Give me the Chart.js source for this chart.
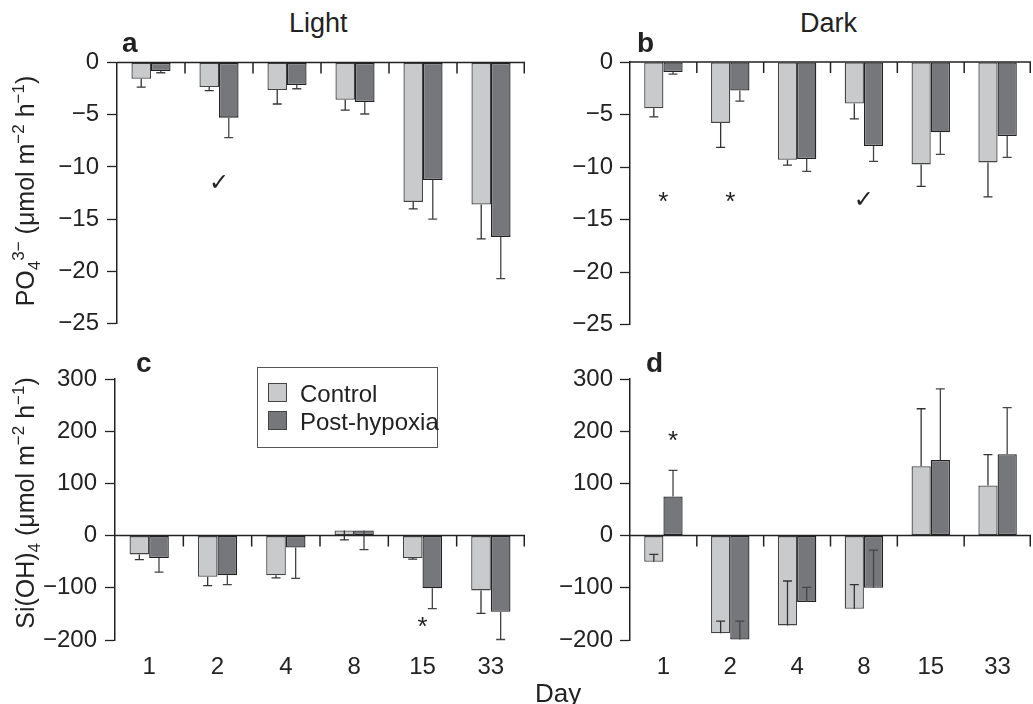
<!DOCTYPE html>
<html>
<head>
<meta charset="utf-8">
<script src="https://cdn.jsdelivr.net/npm/chart.js@4.4.1/dist/chart.umd.min.js"></script>
<style>
	body { margin: 0; background: #fff; width: 1033px; height: 704px; position: relative; overflow: hidden;
		font-family: "Liberation Sans", Arial, Helvetica, sans-serif; color: #222; }
	canvas { position: absolute; }
	.txt { position: absolute; white-space: nowrap; font-size: 27px; line-height: 1; }
	.letter { position: absolute; font-weight: bold; font-size: 28px; line-height: 1; }
	.ylab { position: absolute; white-space: nowrap; font-size: 25px; line-height: 1;
		transform: translate(-50%, -50%) rotate(-90deg); }
	.ylab sup, .ylab sub { font-size: 17px; line-height: 0; }
	#legend { position: absolute; left: 257px; top: 367px; width: 179px; height: 79px;
		border: 1px solid #555; background: #fff; }
	.sw { position: absolute; left: 10px; width: 17px; height: 17px; border: 1px solid #444; }
	.lt { position: absolute; left: 42px; font-size: 24px; line-height: 1; white-space: nowrap; }
</style>
</head>
<body>

<canvas id="pa" width="540" height="306" style="left:0px;top:40px"></canvas>
<canvas id="pb" width="513" height="306" style="left:520px;top:40px"></canvas>
<canvas id="pc" width="540" height="340" style="left:0px;top:350px"></canvas>
<canvas id="pd" width="513" height="340" style="left:520px;top:350px"></canvas>

<div class="txt" style="left:289px;top:10px">Light</div>
<div class="txt" style="left:800px;top:10px">Dark</div>
<div class="letter" style="left:122px;top:29px">a</div>
<div class="letter" style="left:637px;top:29px">b</div>
<div class="letter" style="left:136px;top:349px">c</div>
<div class="letter" style="left:646px;top:349px">d</div>
<div class="ylab" style="left:25px;top:191px">PO<sub>4</sub><sup>3−</sup> (μmol m<sup>−2</sup> h<sup>−1</sup>)</div>
<div class="ylab" style="left:25px;top:503px">Si(OH)<sub>4</sub> (μmol m<sup>−2</sup> h<sup>−1</sup>)</div>
<div class="txt" style="left:535px;top:680px;font-size:26px">Day</div>

<div id="legend">
	<div class="sw" style="top:15px;background:#c9cacc"></div>
	<div class="lt" style="top:14px">Control</div>
	<div class="sw" style="top:43px;background:#76777b"></div>
	<div class="lt" style="top:42px">Post-hypoxia</div>
</div>

<script>
var days = ['1', '2', '4', '8', '15', '33'];

// PO4 light (a)
var aCtrl = [-1.56, -2.36, -2.65, -3.57, -13.35, -13.6];
var aCtrlErr = [-2.36, -2.71, -3.98, -4.56, -14.02, -16.9];
var aPost = [-0.83, -5.29, -2.17, -3.79, -11.25, -16.7];
var aPostErr = [-0.99, -7.2, -2.52, -4.94, -15.0, -20.7];

// PO4 dark (b)
var bCtrl = [-4.4, -5.8, -9.3, -3.95, -9.75, -9.56];
var bCtrlErr = [-5.23, -8.13, -9.82, -5.42, -11.85, -12.84];
var bPost = [-0.96, -2.71, -9.24, -8.0, -6.69, -7.04];
var bPostErr = [-1.15, -3.73, -10.42, -9.46, -8.8, -9.08];

// Si(OH)4 light (c)
var cCtrl = [-36, -79, -76, 10, -43, -105];
var cCtrlErr = [-46, -96, -81, -8, -45, -149];
var cPost = [-43, -76, -23, 10, -101, -146];
var cPostErr = [-70, -94, -82, -27, -140, -199];

// Si(OH)4 dark (d)
var dCtrl = [-50, -187, -172, -140, 133, 96];
var dCtrlErr = [-36, -164, -87, -94, 243, 155];
var dPost = [75, -199, -127, -100, 145, 156];
var dPostErr = [125, -164, -99, -28, 281, 245];

// significance marks: [day index, value, symbol, dataset (-1 = between bars)]
var aNotes = [[1, -11.6, '✓', -1]];
var bNotes = [[0, -13.4, '*', -1], [1, -13.4, '*', -1], [3, -13.2, '✓', -1]];
var cNotes = [[4, -176, '*', -1]];
var dNotes = [[0, 180, '*', 1]];

var fontFam = '"Liberation Sans", Arial, Helvetica, sans-serif';
var ink = '#222';

var extras = {
	id: 'extras',
	afterDatasetsDraw: function (chart) {
		var ctx = chart.ctx;
		var xs = chart.scales.x, ys = chart.scales.y;
		var area = chart.chartArea;
		ctx.save();

		// error bars
		chart.data.datasets.forEach(function (ds, di) {
			var meta = chart.getDatasetMeta(di);
			meta.data.forEach(function (bar, i) {
				var y1 = ys.getPixelForValue(ds.data[i]);
				var y2 = ys.getPixelForValue(ds.err[i]);
				ctx.strokeStyle = di == 0 ? '#333' : '#444';
				ctx.lineWidth = 1.3;
				ctx.beginPath();
				ctx.moveTo(bar.x, y1);
				ctx.lineTo(bar.x, y2);
				ctx.moveTo(bar.x - 4.5, y2);
				ctx.lineTo(bar.x + 4.5, y2);
				ctx.stroke();
			});
		});

		// zero line with ticks between days
		var y0 = ys.getPixelForValue(0);
		ctx.strokeStyle = ink;
		ctx.lineWidth = 1.5;
		ctx.beginPath();
		ctx.moveTo(area.left, y0);
		ctx.lineTo(area.right, y0);
		for (var i = 1; i <= days.length; i++) {
			var bx = i < days.length ? (xs.getPixelForValue(i - 1) + xs.getPixelForValue(i)) / 2 : area.right - 0.75;
			ctx.moveTo(bx, y0);
			ctx.lineTo(bx, y0 + 11);
		}
		ctx.stroke();

		// marks
		ctx.fillStyle = ink;
		ctx.textAlign = 'center';
		ctx.textBaseline = 'middle';
		(chart.options.notes || []).forEach(function (n) {
			var x = n[3] < 0 ? xs.getPixelForValue(n[0]) : chart.getDatasetMeta(n[3]).data[n[0]].x;
			ctx.font = n[2] == '*' ? '26px ' + fontFam : '24px "DejaVu Sans", sans-serif';
			ctx.fillText(n[2], x, ys.getPixelForValue(n[1]));
		});
		ctx.restore();
	}
};

function panel(id, ctrl, ctrlErr, post, postErr, yMin, yMax, step, yWidth, labelPad, pad, showDays, notes) {
	var ctx = document.getElementById(id).getContext('2d');
	return new Chart(ctx, {
		type: 'bar',
		data: {
			labels: days,
			datasets: [{
				label: 'Control',
				data: ctrl,
				err: ctrlErr,
				backgroundColor: '#c9cacc',
				borderColor: '#444',
				borderWidth: 1.3,
				borderSkipped: false
			}, {
				label: 'Post-hypoxia',
				data: post,
				err: postErr,
				backgroundColor: '#76777b',
				borderColor: '#222',
				borderWidth: 1.3,
				borderSkipped: false
			}]
		},
		options: {
			responsive: false,
			animation: false,
			notes: notes,
			categoryPercentage: 0.575,
			barPercentage: 1.0,
			layout: { padding: pad },
			plugins: { legend: { display: false }, tooltip: { enabled: false } },
			scales: {
				x: {
					display: showDays,
					grid: { display: false },
					border: { display: false },
					ticks: { color: ink, padding: 5, font: { size: 24, family: fontFam } },
					afterFit: function (s) { s.height = showDays ? 50 : 0; }
				},
				y: {
					min: yMin,
					max: yMax,
					ticks: {
						stepSize: step,
						color: ink,
						padding: labelPad,
						font: { size: 24, family: fontFam },
						callback: function (v) { return String(v).replace('-', '−'); }
					},
					grid: { drawOnChartArea: false, tickLength: 10, tickColor: ink, tickWidth: 1.3 },
					border: { color: ink, width: 1.5 },
					afterFit: function (s) { s.width = yWidth; }
				}
			}
		},
		plugins: [extras]
	});
}

window.onload = function () {
	panel('pa', aCtrl, aCtrlErr, aPost, aPostErr, -25, 0, 5, 117, 8, { top: 22, right: 15, bottom: 11, left: 0 }, false, aNotes);
	panel('pb', bCtrl, bCtrlErr, bPost, bPostErr, -25, 0, 5, 110, 7, { top: 22, right: 2, bottom: 11, left: 0 }, false, bNotes);
	panel('pc', cCtrl, cCtrlErr, cPost, cPostErr, -200, 300, 100, 115, 8, { top: 29, right: 15, bottom: 0, left: 0 }, true, cNotes);
	panel('pd', dCtrl, dCtrlErr, dPost, dPostErr, -200, 300, 100, 110, 7, { top: 29, right: 2, bottom: 0, left: 0 }, true, dNotes);
};
</script>
</body>
</html>
